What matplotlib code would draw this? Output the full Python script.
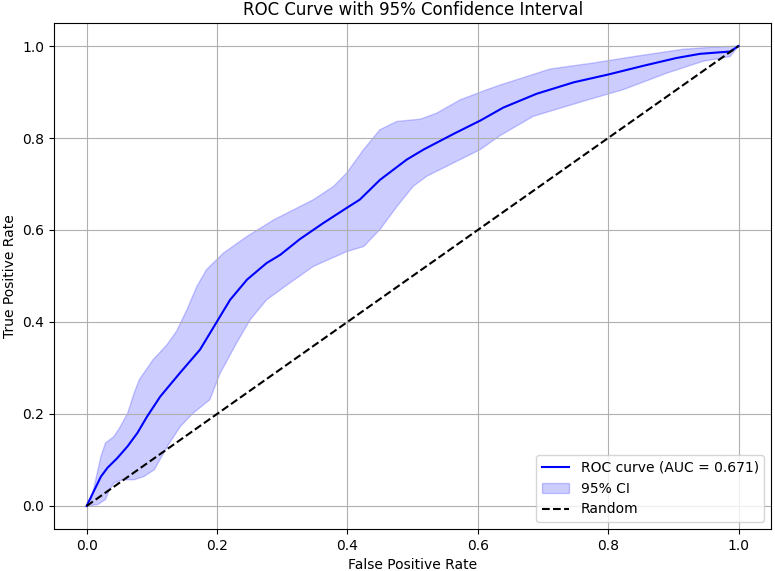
import numpy as np
import matplotlib
matplotlib.use("Agg")
import matplotlib.pyplot as plt

# Mean ROC curve
fpr = [0.0, 0.012, 0.022, 0.032, 0.047, 0.063, 0.078, 0.093, 0.113, 0.143, 0.174,
       0.200, 0.220, 0.246, 0.276, 0.297, 0.327, 0.363, 0.399, 0.419, 0.450,
       0.491, 0.517, 0.563, 0.604, 0.639, 0.690, 0.747, 0.800, 0.854, 0.905,
       0.941, 0.987, 1.0]
tpr = [0.0, 0.035, 0.064, 0.083, 0.104, 0.130, 0.159, 0.195, 0.238, 0.289, 0.340,
       0.401, 0.448, 0.492, 0.528, 0.546, 0.580, 0.615, 0.648, 0.666, 0.709,
       0.753, 0.775, 0.809, 0.838, 0.866, 0.896, 0.921, 0.938, 0.957, 0.974,
       0.983, 0.988, 1.0]

# Upper CI bound
upper_fpr = [0.0, 0.006, 0.014, 0.022, 0.029, 0.042, 0.052, 0.063, 0.073, 0.081, 0.102,
             0.123, 0.138, 0.154, 0.169, 0.184, 0.210, 0.246, 0.287, 0.348, 0.379,
             0.399, 0.425, 0.450, 0.476, 0.512, 0.537, 0.573, 0.614, 0.634, 0.711,
             0.777, 0.839, 0.915, 0.967, 1.0]
upper_tpr = [0.0, 0.007, 0.057, 0.108, 0.137, 0.151, 0.173, 0.202, 0.246, 0.275, 0.318,
             0.350, 0.380, 0.427, 0.477, 0.514, 0.550, 0.586, 0.622, 0.666, 0.695,
             0.724, 0.775, 0.818, 0.836, 0.841, 0.854, 0.883, 0.905, 0.915, 0.950,
             0.963, 0.977, 0.993, 0.998, 1.0]

# Lower CI bound
lower_fpr = [0.0, 0.017, 0.029, 0.035, 0.042, 0.055, 0.073, 0.088, 0.104, 0.124, 0.144,
             0.162, 0.189, 0.205, 0.230, 0.251, 0.276, 0.307, 0.348, 0.399, 0.425,
             0.450, 0.476, 0.501, 0.522, 0.563, 0.604, 0.634, 0.685, 0.762, 0.823,
             0.890, 0.946, 0.987, 1.0]
lower_tpr = [0.0, 0.003, 0.014, 0.035, 0.050, 0.057, 0.057, 0.064, 0.079, 0.130, 0.173,
             0.200, 0.231, 0.289, 0.354, 0.405, 0.448, 0.480, 0.521, 0.553, 0.564,
             0.601, 0.651, 0.695, 0.717, 0.746, 0.775, 0.805, 0.847, 0.880, 0.905,
             0.941, 0.967, 0.977, 1.0]

auc_label = "ROC curve (AUC = 0.671)"

fig, ax = plt.subplots(figsize=(7.75, 5.71), dpi=100)
fig.subplots_adjust(left=0.0697, right=0.995, top=0.9597, bottom=0.0736)

ax.plot(fpr, tpr, color="blue", lw=1.5, label=auc_label)
poly_x = np.concatenate([upper_fpr, lower_fpr[::-1]])
poly_y = np.concatenate([upper_tpr, lower_tpr[::-1]])
ax.fill(poly_x, poly_y, color="blue", alpha=0.2, label="95% CI")
ax.plot([0, 1], [0, 1], "k--", lw=1.5, label="Random")

ax.set_xlim(-0.05, 1.05)
ax.set_ylim(-0.05, 1.05)
ax.set_xlabel("False Positive Rate")
ax.set_ylabel("True Positive Rate")
ax.set_title("ROC Curve with 95% Confidence Interval")
ax.grid(True)
ax.legend(loc="lower right")

fig.savefig("out.png", dpi=100)
